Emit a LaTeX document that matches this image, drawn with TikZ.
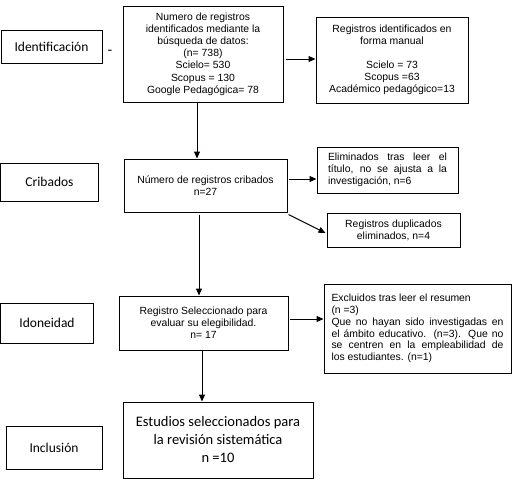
\documentclass[tikz,border=0pt]{standalone}
\usepackage{fontspec}
\setmainfont{Liberation Sans}
\newfontfamily\calib{Carlito}
\usetikzlibrary{arrows.meta,positioning,calc}
\begin{document}
\begin{tikzpicture}[x=1pt,y=-1pt,
  box/.style={draw=black,line width=1pt,inner sep=0pt,align=center,font=\fontsize{10.4}{12.2}\selectfont},
  lab/.style={draw=black,line width=1pt,inner sep=0pt,align=center,font=\calib\fontsize{13.5}{16}\selectfont},
  arr/.style={line width=1pt,-{Triangle[length=7pt,width=6pt]}}]
\useasboundingbox (0,0) rectangle (520,482);
% stage labels
\node[lab,minimum width=101pt,minimum height=33pt] (idl) at (51.5,46.5) {Identificación};
\node[lab,minimum width=98pt,minimum height=38pt] (crl) at (49.5,182) {Cribados};
\node[lab,minimum width=93pt,minimum height=40pt] (idol) at (47,323) {Idoneidad};
\node[lab,minimum width=96pt,minimum height=43pt] (incl) at (54,447.5) {Inclusión};
\node[font=\fontsize{14}{14}\selectfont,inner sep=0pt] (dash) at (110,52) {-};
% main boxes
\node[box,minimum width=160pt,minimum height=96pt] (b1) at (203,54)
 {Numero de registros\\identificados mediante la\\búsqueda de datos:\\(n= 738)\\Scielo= 530\\Scopus = 130\\Google Pedagógica= 78};
\node[box,minimum width=152pt,minimum height=86pt] (b2) at (392,60)
 {Registros identificados en\\forma manual\\[11pt]Scielo = 73\\Scopus =63\\Académico pedagógico=13};
\node[box,minimum width=163pt,minimum height=53pt] (b3) at (205.5,185.5)
 {Número de registros cribados\\n=27};
\node[box,minimum width=141pt,minimum height=46pt,text width=119pt,align=justify,inner xsep=11pt] (b4) at (387.5,170)
 {\hyphenpenalty=10000 Eliminados tras leer el\linebreak título, no se ajusta a la\linebreak investigación, n=6};
\node[box,minimum width=133pt,minimum height=34pt] (b5) at (393.5,230)
 {Registros duplicados\\eliminados, n=4};
\node[box,minimum width=169pt,minimum height=54pt] (b6) at (203.5,323)
 {Registro Seleccionado para\\evaluar su elegibilidad.\\n= 17};
\node[box,minimum width=187pt,minimum height=89pt,text width=172pt,align=justify,inner xsep=7.5pt,font=\fontsize{10.4}{11.8}\selectfont] (b7) at (417.5,328.5)
 {\hyphenpenalty=10000 Excluidos tras leer el resumen\\(n =3)\\Que no hayan sido investigadas en\linebreak el ámbito educativo. (n=3). Que no\linebreak se centren en la empleabilidad de\linebreak los estudiantes. (n=1)};
\node[box,minimum width=190pt,minimum height=76pt,font=\calib\fontsize{14.5}{18}\selectfont] (b8) at (218,440)
 {Estudios seleccionados para\\la revisión sistemática\\n =10};
% connectors
\draw[arr] ([xshift=-6pt]b1.south) -- ([xshift=-6pt]b1.south |- b3.north);
\draw[arr] ([xshift=2pt,yshift=-5pt]b1.east) -- ([yshift=1pt]b2.west);
\draw[arr] ([xshift=1pt,yshift=6.5pt]b3.east) -- ([yshift=-9pt]b4.west);
\draw[arr] ([xshift=1pt,yshift=-2pt]b3.south east) -- ([xshift=-1pt,yshift=-3pt]b5.west);
\draw[arr] ([xshift=-6.5pt,yshift=-2pt]b3.south) -- ([xshift=-6.5pt]b3.south |- b6.north);
\draw[arr] ([xshift=1pt,yshift=4pt]b6.east) -- ([yshift=9.5pt]b7.west);
\draw[arr] ([xshift=-1.5pt]b6.south) -- ([xshift=-1.5pt]b6.south |- b8.north);
\end{tikzpicture}
\end{document}
